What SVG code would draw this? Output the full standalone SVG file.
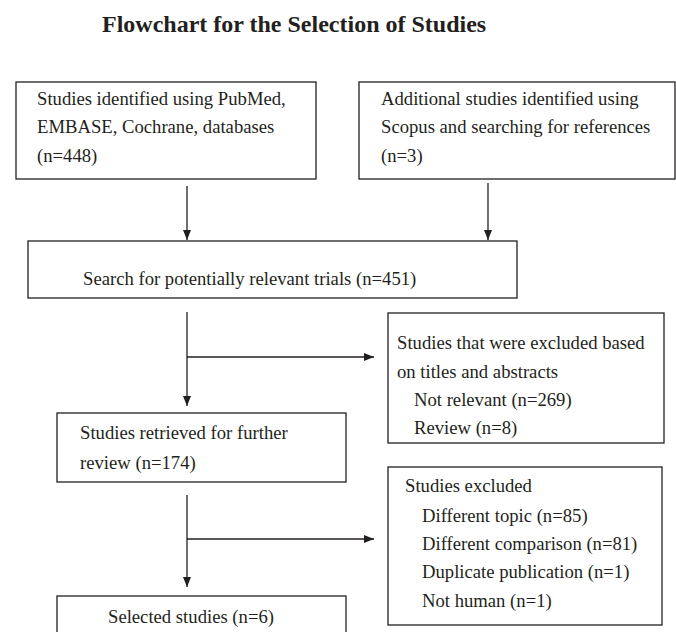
<svg xmlns="http://www.w3.org/2000/svg" width="676" height="632" viewBox="0 0 676 632">
<style>
  .box { fill: #ffffff; stroke: #231f20; stroke-width: 1.3; }
  .t { font-family: "Liberation Serif", "Times New Roman", serif; font-size: 18.67px; fill: #231f20; }
  .title { font-family: "Liberation Serif", "Times New Roman", serif; font-size: 24px; font-weight: bold; fill: #231f20; }
  .conn { stroke: #231f20; stroke-width: 1.3; fill: none; }
</style>
<defs>
  <marker id="arrow" markerUnits="userSpaceOnUse" markerWidth="10" markerHeight="8" refX="10" refY="4" orient="auto">
    <path d="M0,0 L10,4 L0,8 z" fill="#231f20"/>
  </marker>
</defs>
<rect width="676" height="632" fill="#ffffff"/>
<text class="title" x="102" y="32">Flowchart for the Selection of Studies</text>

<g id="node-identified">
  <rect class="box" x="16" y="82" width="300" height="97"/>
  <text class="t" x="37" y="105">Studies identified using PubMed,</text>
  <text class="t" x="37" y="133">EMBASE, Cochrane, databases</text>
  <text class="t" x="37" y="162">(n=448)</text>
</g>
<g id="node-additional">
  <rect class="box" x="359" y="82" width="316" height="97"/>
  <text class="t" x="381" y="105">Additional studies identified using</text>
  <text class="t" x="381" y="133">Scopus and searching for references</text>
  <text class="t" x="381" y="162">(n=3)</text>
</g>
<g id="node-search">
  <rect class="box" x="28" y="241" width="489" height="57"/>
  <text class="t" x="83" y="285">Search for potentially relevant trials (n=451)</text>
</g>
<g id="node-excluded1">
  <rect class="box" x="388" y="313" width="276" height="130"/>
  <text class="t" x="397" y="349">Studies that were excluded based</text>
  <text class="t" x="397" y="378">on titles and abstracts</text>
  <text class="t" x="414" y="406">Not relevant (n=269)</text>
  <text class="t" x="414" y="434">Review (n=8)</text>
</g>
<g id="node-retrieved">
  <rect class="box" x="57" y="413" width="289" height="69"/>
  <text class="t" x="80" y="439">Studies retrieved for further</text>
  <text class="t" x="80" y="469">review (n=174)</text>
</g>
<g id="node-excluded2">
  <rect class="box" x="388" y="467" width="274" height="158"/>
  <text class="t" x="405" y="492">Studies excluded</text>
  <text class="t" x="422" y="522">Different topic (n=85)</text>
  <text class="t" x="422" y="550">Different comparison (n=81)</text>
  <text class="t" x="422" y="578">Duplicate publication (n=1)</text>
  <text class="t" x="422" y="607">Not human (n=1)</text>
</g>
<g id="node-selected">
  <rect class="box" x="57" y="596" width="289" height="50"/>
  <text class="t" x="108" y="623">Selected studies (n=6)</text>
</g>

<g id="connectors">
  <line class="conn" x1="187" y1="186" x2="187" y2="240" marker-end="url(#arrow)"/>
  <line class="conn" x1="488" y1="183" x2="488" y2="240" marker-end="url(#arrow)"/>
  <line class="conn" x1="187" y1="312" x2="187" y2="406" marker-end="url(#arrow)"/>
  <line class="conn" x1="187" y1="357" x2="374" y2="357" marker-end="url(#arrow)"/>
  <line class="conn" x1="187" y1="495" x2="187" y2="587" marker-end="url(#arrow)"/>
  <line class="conn" x1="187" y1="539" x2="374" y2="539" marker-end="url(#arrow)"/>
</g>
</svg>
